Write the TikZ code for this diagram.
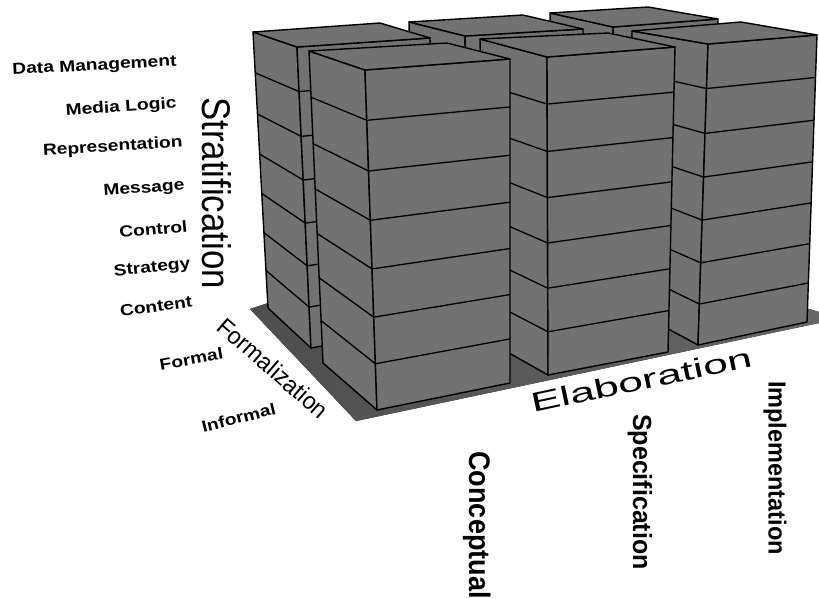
\documentclass[tikz,border=0pt]{standalone}
\usepackage{fontspec}
\setmainfont{Liberation Sans}
\usetikzlibrary{calc}
\definecolor{towergray}{RGB}{114,114,114}
\definecolor{floordark}{RGB}{78,78,78}
\definecolor{floorlight}{RGB}{102,102,102}
\tikzset{
  face/.style={fill=towergray, draw=black, line width=1.4pt, line join=round},
  layer/.style={draw=black, line width=1.3pt, line join=round},
  lab/.style={font=\fontsize{16}{16}\selectfont\bfseries, inner sep=0pt, anchor=base east, xscale=1.2},
  axis/.style={font=\fontsize{40}{40}\selectfont, inner sep=0pt},
  col/.style={font=\bfseries, inner sep=0pt}
}
\newcommand{\drawtower}[8]{%
  \coordinate (#1tbl) at #2; \coordinate (#1tbr) at #3;
  \coordinate (#1tfr) at #4; \coordinate (#1tfl) at #5;
  \coordinate (#1bfl) at #6; \coordinate (#1bfr) at #7;
  \coordinate (#1bbl) at #8;
  \path[face] (#1tbl) -- (#1tfl) -- (#1bfl) -- (#1bbl) -- cycle;
  \path[face] (#1tfl) -- (#1tfr) -- (#1bfr) -- (#1bfl) -- cycle;
  \path[face] (#1tbl) -- (#1tbr) -- (#1tfr) -- (#1tfl) -- cycle;
  \foreach \f in {0.148,0.297,0.442,0.585,0.727,0.864}{
    \draw[layer] ($(#1tbl)!\f!(#1bbl)$) -- ($(#1tfl)!\f!(#1bfl)$) -- ($(#1tfr)!\f!(#1bfr)$);
  }%
}
\begin{document}
\begin{tikzpicture}[x=1pt,y=-1pt]
\useasboundingbox (0,0) rectangle (819,598);
\fill[white] (0,0) rectangle (819,598);
% floor
\coordinate (fl1) at (250,309);
\coordinate (fl2) at (356,421);
\coordinate (fl3) at (819,323);
\coordinate (fl4) at (819,312);
\coordinate (fl5) at (780,300);
\coordinate (fl6) at (268,303);
\fill[left color=floordark, right color=floorlight] (fl1) -- (fl2) -- (fl3) -- (fl4) -- (fl5) -- (fl6) -- cycle;
% back row (right to left)
\drawtower{BR}{(550,13)}{(648,7)}{(718,19)}{(613,27)}{(618,310)}{(712,295)}{(558,285)}
\drawtower{BM}{(409,22)}{(523,15)}{(583,29)}{(465,36)}{(472,332)}{(583,315)}{(415,298)}
\drawtower{BL}{(253,32)}{(380,23)}{(430,38)}{(297,47)}{(311,348)}{(436,325)}{(268,308)}
% front row (right to left)
\drawtower{FR}{(632,31)}{(741,22)}{(817,35)}{(708,44)}{(698,345)}{(807,322)}{(624,305)}
\drawtower{FM}{(480,39)}{(608,33)}{(675,47)}{(547,57)}{(548,375)}{(668,352)}{(486,340)}
\drawtower{FL}{(309,51)}{(447,43)}{(510,59)}{(365,70)}{(377,410)}{(510,383)}{(323,363)}
% stratification labels
\node[rotate=3, lab] (dm) at (177,66) {Data Management};
\node[rotate=4, lab] (ml) at (177,108) {Media Logic};
\node[rotate=3.5, lab] (rep) at (183,147) {Representation};
\node[rotate=4, lab] (msg) at (185,190) {Message};
\node[rotate=5, lab] (ctl) at (188,232) {Control};
\node[rotate=6, lab] (stg) at (191,268) {Strategy};
\node[rotate=7.5, lab] (cnt) at (193,307) {Content};
\node[rotate=-90, xscale=0.87, axis] (strat) at (217,193) {Stratification};
% formalization labels
\node[rotate=10, lab] (formal) at (224,359) {Formal};
\node[rotate=14, lab] (informal) at (277,414) {Informal};
\node[rotate=-41, xscale=0.96, font=\fontsize{24}{24}\selectfont, inner sep=0pt] (form) at (273,368) {Formalization};
% elaboration labels
\node[rotate=12, xscale=1.65, font=\fontsize{27}{27}\selectfont, inner sep=0pt, anchor=base west] (elab) at (533,413) {Elaboration};
\node[rotate=-90, yscale=1.1, col, font=\fontsize{27}{27}\selectfont\bfseries] (conc) at (477,525) {Conceptual};
\node[rotate=-90, yscale=1.05, col, font=\fontsize{25}{25}\selectfont\bfseries] (spec) at (640,492) {Specification};
\node[rotate=-90, yscale=1.05, col, font=\fontsize{23.5}{23.5}\selectfont\bfseries] (impl) at (775,468) {Implementation};
\end{tikzpicture}
\end{document}
